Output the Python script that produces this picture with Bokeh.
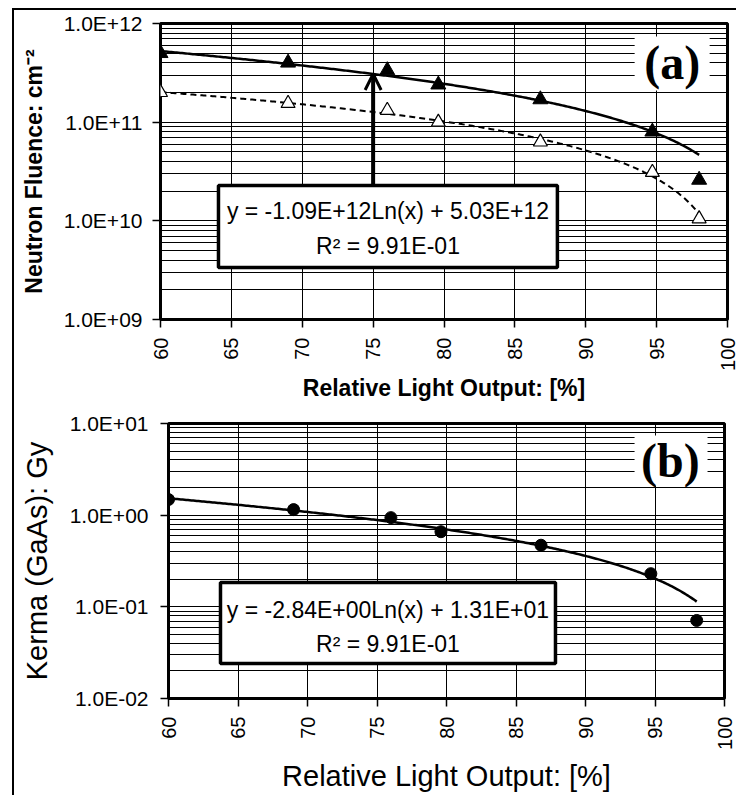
import numpy as np
from bokeh.plotting import figure
from bokeh.layouts import column, row
from bokeh.models import Range1d, FixedTicker, Arrow, OpenHead, Label, Div, Spacer
from bokeh.embed import file_html
from bokeh.resources import INLINE

# ---------------- data ----------------
light_output = [60, 69, 76, 79.6, 86.8, 94.7, 98]
fluence_filled = [5.0e11, 4.0e11, 3.35e11, 2.4e11, 1.7e11, 8.0e10, 2.6e10]
fluence_open = [2.0e11, 1.55e11, 1.32e11, 1.0e11, 6.3e10, 3.1e10, 1.05e10]
kerma = [1.48, 1.15, 0.94, 0.66, 0.47, 0.23, 0.071]

x_ticks = [60, 65, 70, 75, 80, 85, 90, 95, 100]
x_tick_labels = ["60", "65", "70", "75", "80", "85", "90", "95", "100"]
y_ticks_a = [1e9, 1e10, 1e11, 1e12]
y_tick_labels_a = ["1.0E+09", "1.0E+10", "1.0E+11", "1.0E+12"]
y_ticks_b = [1e-2, 1e-1, 1e0, 1e1]
y_tick_labels_b = ["1.0E-02", "1.0E-01", "1.0E+00", "1.0E+01"]

eq_a = ["y = -1.09E+12Ln(x) + 5.03E+12", "R\u00b2 = 9.91E-01"]
eq_b = ["y = -2.84E+00Ln(x) + 1.31E+01", "R\u00b2 = 9.91E-01"]
arrow_x = 75
title_a_y = "Neutron Fluence: cm\u207b\u00b2"
title_b_y = "Kerma (GaAs): Gy"
title_x = "Relative Light Output: [%]"

FONT = "Liberation Sans"


def log_fit(x, y):
    slope, intercept = np.polyfit(np.log(x), y, 1)
    xs = np.linspace(min(x), max(x), 300)
    return xs, slope * np.log(xs) + intercept, slope, intercept


def lin_fit(x, y):
    slope, intercept = np.polyfit(x, y, 1)
    xs = np.linspace(min(x), max(x), 300)
    return xs, slope * xs + intercept


def minor_list(lo_exp, hi_exp):
    return [m * 10.0 ** d for d in range(lo_exp, hi_exp) for m in range(2, 10)]


def style(p, yticks, ylabels, minor, ytitle, bold, ytitle_size, xtitle_size,
          xstand, ystand, ylab_stand):
    p.xaxis.ticker = FixedTicker(ticks=x_ticks)
    p.xaxis.major_label_overrides = dict(zip(x_ticks, x_tick_labels))
    p.yaxis.ticker = FixedTicker(ticks=yticks, minor_ticks=minor)
    p.yaxis.major_label_overrides = dict(zip(yticks, ylabels))
    p.xgrid.ticker = FixedTicker(ticks=x_ticks)
    p.ygrid.ticker = FixedTicker(ticks=yticks, minor_ticks=minor)
    for g in (p.xgrid, p.ygrid):
        g.grid_line_color = "black"
        g.grid_line_width = 1
        g.grid_line_alpha = 1
    p.ygrid.minor_grid_line_color = "black"
    p.ygrid.minor_grid_line_width = 1
    p.outline_line_color = "black"
    p.outline_line_width = 3
    for ax in (p.xaxis, p.yaxis):
        ax.axis_line_color = None
        ax.major_tick_line_color = "black"
        ax.major_tick_line_width = 1.5
        ax.major_tick_out = 8
        ax.major_tick_in = 0
        ax.minor_tick_line_color = None
        ax.major_label_text_font = FONT
        ax.major_label_text_color = "black"
        ax.axis_label_text_font = FONT
        ax.axis_label_text_color = "black"
        ax.axis_label_text_font_style = "bold" if bold else "normal"
    p.xaxis.major_label_text_font_size = "20px"
    p.yaxis.major_label_text_font_size = "21px"
    p.xaxis.major_label_orientation = np.pi / 2
    p.xaxis.major_label_standoff = 10
    p.yaxis.major_label_standoff = ylab_stand
    p.xaxis.axis_label = title_x
    p.yaxis.axis_label = ytitle
    p.xaxis.axis_label_text_font_size = xtitle_size
    p.yaxis.axis_label_text_font_size = ytitle_size
    p.xaxis.axis_label_standoff = xstand
    p.yaxis.axis_label_standoff = ystand
    p.background_fill_color = "white"
    p.border_fill_color = "white"


# ---------------- panel (a) ----------------
pa = figure(width=728, height=397, y_axis_type="log",
            x_range=Range1d(60, 100), y_range=Range1d(1e9, 1e12),
            min_border_left=146, min_border_right=15, min_border_top=13,
            min_border_bottom=88, output_backend="svg", toolbar_location=None)
style(pa, y_ticks_a, y_tick_labels_a, minor_list(9, 12), title_a_y, True,
      "23px", "23px", 1, 14, 10)

# white patch behind "(a)"
pa.quad(left=93.45, right=98.74, bottom=2.09e11, top=7.38e11,
        fill_color="white", line_color=None)

xs, ys, sa, ia = log_fit(light_output, fluence_filled)
pa.line(xs, ys, line_color="black", line_width=2.5)
xs2, ys2 = lin_fit(light_output, fluence_open)
pa.line(xs2, ys2, line_color="black", line_width=2, line_dash="6 4")
pa.scatter(light_output, fluence_filled, marker="triangle", size=15,
           fill_color="black", line_color="black")
pa.scatter(light_output, fluence_open, marker="triangle", size=14,
           fill_color="white", line_color="black", line_width=1.2)

# equation box (a)
pa.quad(left=64.09, right=88.0, bottom=3.37e9, top=2.28e10,
        fill_color="white", line_color="black", line_width=3.5)
pa.add_layout(Label(x=76.05, y=1.27e10, text=eq_a[0], text_font=FONT,
                    text_font_size="23px", text_align="center",
                    text_baseline="middle", text_color="black"))
pa.add_layout(Label(x=76.05, y=5.5e9, text=eq_a[1], text_font=FONT,
                    text_font_size="23px", text_align="center",
                    text_baseline="middle", text_color="black"))
arrow_end = sa * np.log(arrow_x) + ia
pa.add_layout(Arrow(x_start=arrow_x, y_start=2.28e10, x_end=arrow_x,
                    y_end=arrow_end, line_color="black", line_width=4,
                    end=OpenHead(size=16, line_width=3, line_color="black")))
pa.add_layout(Label(x=96.1, y=4.03e11, text="(a)", text_font="Liberation Serif",
                    text_font_size="48px", text_font_style="bold",
                    text_align="center", text_baseline="middle",
                    text_color="black"))

# ---------------- panel (b) ----------------
pb = figure(width=728, height=388, y_axis_type="log",
            x_range=Range1d(60, 100), y_range=Range1d(1e-2, 1e1),
            min_border_left=154, min_border_right=18, min_border_top=16,
            min_border_bottom=97, output_backend="svg", toolbar_location=None)
style(pb, y_ticks_b, y_tick_labels_b, minor_list(-2, 1), title_b_y, False,
      "29px", "29px", 7, 14, 12)

pb.quad(left=93.53, right=98.78, bottom=2.11, top=7.4,
        fill_color="white", line_color=None)
xs3, ys3, _, _ = log_fit(light_output, kerma)
pb.line(xs3, ys3, line_color="black", line_width=2.5)
pb.scatter(light_output, kerma, marker="circle", size=12,
           fill_color="black", line_color="black")

pb.quad(left=63.74, right=87.84, bottom=0.0241, top=0.1845,
        fill_color="white", line_color="black", line_width=3.5)
pb.add_layout(Label(x=75.79, y=0.0935, text=eq_b[0], text_font=FONT,
                    text_font_size="23px", text_align="center",
                    text_baseline="middle", text_color="black"))
pb.add_layout(Label(x=75.79, y=0.0398, text=eq_b[1], text_font=FONT,
                    text_font_size="23px", text_align="center",
                    text_baseline="middle", text_color="black"))
pb.add_layout(Label(x=96.1, y=3.95, text="(b)", text_font="Liberation Serif",
                    text_font_size="48px", text_font_style="bold",
                    text_align="center", text_baseline="middle",
                    text_color="black"))

# outer frame lines (top and left) as thin black blocks
top_line = Div(text="", width=724, height=2, margin=0,
               styles={"background-color": "black"})
left_line = Div(text="", width=2, height=785, margin=0,
                styles={"background-color": "black"})
layout = row(Spacer(width=12, height=10, margin=0),
             column(Spacer(width=10, height=8, margin=0),
                    top_line,
                    row(left_line,
                        column(row(pa, spacing=0), row(pb, spacing=0),
                               spacing=0),
                        spacing=0),
                    spacing=0),
             spacing=0)

open("out.html", "w").write(file_html(layout, INLINE))
